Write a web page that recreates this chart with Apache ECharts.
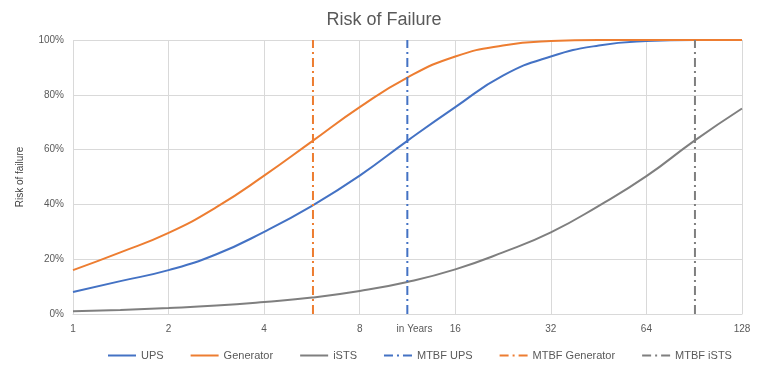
<!DOCTYPE html>
<html>
<head>
<meta charset="utf-8">
<script src="https://cdn.jsdelivr.net/npm/echarts@6/dist/echarts.min.js"></script>
<style>
html, body { margin: 0; padding: 0; background: #fff; }
#chart { width: 768px; height: 376px; }
</style>
</head>
<body>
<div id="chart"></div>
<script>
// years (log2 scale)
var years = [1, 1.41, 2, 2.83, 4, 5.66, 8, 11.3, 16, 22.6, 32, 45.3, 64, 90.5, 128];
var ups = [8, 12, 16, 21.8, 30, 39.5, 50.5, 63.2, 75.5, 87, 94, 98, 99.6, 100, 100];
var generator = [16, 22.5, 29.6, 39, 50.5, 63, 75.5, 86.3, 94, 98, 99.6, 100, 100, 100, 100];
var ists = [1, 1.5, 2.2, 3.1, 4.4, 6, 8.4, 11.7, 16.3, 22.5, 29.8, 39.5, 50.3, 63.2, 75];
// MTBF in years
var mtbfUps = 11.3;
var mtbfGenerator = 5.7;
var mtbfIsts = 91;

var chart = echarts.init(document.getElementById('chart'));
var font = 'Liberation Sans';
var dashDot = [9, 4, 2, 4];

function pairs(ys) {
    var out = [];
    for (var i = 0; i < years.length; i++) {
        out.push([years[i], ys[i]]);
    }
    return out;
}
function curve(name, ys, color) {
    return {
        name: name,
        type: 'line',
        smooth: true,
        symbol: 'none',
        data: pairs(ys),
        itemStyle: { color: color },
        lineStyle: { color: color, width: 2 }
    };
}
function mtbf(name, x, color) {
    return {
        name: name,
        type: 'line',
        symbol: 'none',
        data: [[x, 0], [x, 100]],
        itemStyle: { color: color },
        lineStyle: { color: color, width: 2, type: dashDot }
    };
}

var option = {
    animation: false,
    title: {
        text: 'Risk of Failure',
        left: 'center',
        top: 6,
        textStyle: { fontFamily: font, fontSize: 18, fontWeight: 'normal', color: '#595959' }
    },
    grid: { left: 73, right: 26, top: 40, bottom: 62 },
    legend: {
        bottom: 10,
        left: 102,
        itemWidth: 28,
        itemHeight: 10,
        itemGap: 26,
        itemStyle: { opacity: 0 },
        textStyle: { fontFamily: font, fontSize: 11, color: '#595959' },
        data: ['UPS', 'Generator', 'iSTS', 'MTBF UPS', 'MTBF Generator', 'MTBF iSTS']
    },
    xAxis: {
        type: 'log',
        logBase: 2,
        min: 1,
        max: 128,
        name: 'in Years',
        nameLocation: 'middle',
        nameGap: 10,
        nameMoveOverlap: false,
        nameTextStyle: { fontFamily: font, fontSize: 10, color: '#595959', padding: [0, 0, 0, 14] },
        axisLine: { show: true, lineStyle: { color: '#d9d9d9' } },
        axisTick: { show: false },
        splitLine: { show: true, lineStyle: { color: '#d9d9d9' } },
        axisLabel: { fontFamily: font, fontSize: 10, color: '#595959', margin: 10 }
    },
    yAxis: {
        type: 'value',
        min: 0,
        max: 100,
        interval: 20,
        name: 'Risk of failure',
        nameLocation: 'middle',
        nameGap: 48,
        nameMoveOverlap: false,
        nameTextStyle: { fontFamily: font, fontSize: 10, color: '#404040' },
        axisLine: { show: false },
        axisTick: { show: false },
        splitLine: { show: true, lineStyle: { color: '#d9d9d9' } },
        axisLabel: { fontFamily: font, fontSize: 10, color: '#595959', formatter: '{value}%', margin: 9 }
    },
    series: [
        curve('UPS', ups, '#4472C4'),
        curve('Generator', generator, '#ED7D31'),
        curve('iSTS', ists, '#7F7F7F'),
        mtbf('MTBF UPS', mtbfUps, '#4472C4'),
        mtbf('MTBF Generator', mtbfGenerator, '#ED7D31'),
        mtbf('MTBF iSTS', mtbfIsts, '#7F7F7F')
    ]
};
chart.setOption(option);
</script>
</body>
</html>
